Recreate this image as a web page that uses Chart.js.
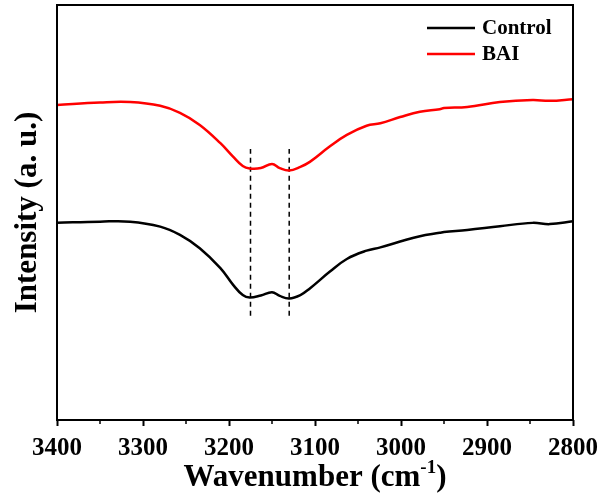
<!DOCTYPE html>
<html>
<head>
<meta charset="utf-8">
<script src="https://cdn.jsdelivr.net/npm/chart.js@4/dist/chart.umd.min.js"></script>
<style>
  html, body { margin: 0; padding: 0; background: #fff; }
  #wrap { width: 600px; height: 501px; }
</style>
</head>
<body>
<div id="wrap"><canvas id="ir"></canvas></div>
<script>
// FTIR spectra, N-H / O-H stretching region
const wavenumbers = [3400, 3350, 3315, 3280, 3257, 3234, 3210, 3195, 3184, 3176, 3163, 3150, 3141, 3130, 3117, 3106, 3083, 3063, 3040, 3024, 3001, 2978, 2955, 2950, 2923, 2885, 2847, 2827, 2800];
const controlIntensity = [47.5, 47.8, 47.8, 46.6, 44.6, 41.4, 36.6, 32.5, 30.1, 29.5, 30.0, 30.8, 29.9, 29.3, 30.1, 31.7, 35.7, 38.8, 40.8, 41.6, 43.0, 44.3, 45.1, 45.3, 45.8, 46.7, 47.5, 47.2, 47.9];
const baiIntensity = [75.9, 76.5, 76.6, 75.7, 74.0, 71.1, 66.7, 63.4, 61.2, 60.6, 60.7, 61.7, 60.7, 60.1, 61.0, 62.2, 65.9, 68.7, 70.9, 71.5, 73.0, 74.3, 74.9, 75.2, 75.4, 76.6, 77.1, 76.9, 77.3];
const seriesNames = ['Control', 'BAI'];
const markerPeaks = [3175, 3130];
const markerSpan = [25.1, 65.3];
const xTickLabels = [3400, 3300, 3200, 3100, 3000, 2900, 2800];
const minorTicks = [3350, 3250, 3150, 3050, 2950, 2850];

const serif = '"Liberation Serif", "Times New Roman", serif';

const toPoints = (ys) => wavenumbers.map((w, i) => ({ x: w, y: ys[i] }));

const datasets = [
  { label: seriesNames[0], data: toPoints(controlIntensity), borderColor: '#000000', borderWidth: 2.5 },
  { label: seriesNames[1], data: toPoints(baiIntensity), borderColor: '#ff0000', borderWidth: 2.5 }
].map(d => Object.assign(d, { pointRadius: 0, tension: 0.4, fill: false }));

markerPeaks.forEach(w => {
  datasets.push({
    label: '', marker: true,
    data: [{ x: w, y: markerSpan[0] }, { x: w, y: markerSpan[1] }],
    borderColor: '#000000', borderWidth: 1.5, borderDash: [5, 4],
    pointRadius: 0, tension: 0, fill: false
  });
});

const framePlugin = {
  id: 'frame',
  afterDraw(chart) {
    const { ctx, chartArea: a, scales } = chart;
    ctx.save();
    // plot frame
    ctx.strokeStyle = '#000';
    ctx.lineWidth = 2;
    ctx.strokeRect(a.left, a.top, a.right - a.left, a.bottom - a.top);
    // minor ticks
    ctx.lineWidth = 1.5;
    minorTicks.forEach(v => {
      const px = Math.round(scales.x.getPixelForValue(v));
      ctx.beginPath();
      ctx.moveTo(px, a.bottom);
      ctx.lineTo(px, a.bottom + 4);
      ctx.stroke();
    });

    // legend
    ctx.font = 'bold 21px ' + serif;
    ctx.textBaseline = 'middle';
    ctx.fillStyle = '#000';
    let ly = 28;
    chart.data.datasets.filter(d => !d.marker).forEach(d => {
      ctx.strokeStyle = d.borderColor;
      ctx.lineWidth = 2.5;
      ctx.beginPath();
      ctx.moveTo(427, ly);
      ctx.lineTo(475, ly);
      ctx.stroke();
      ctx.fillText(d.label, 482, ly + 1);
      ly += 26;
    });

    // x axis title with superscript
    const big = 'bold 31px ' + serif;
    const small = 'bold 19px ' + serif;
    const p1 = 'Wavenumber (cm', sup = '-1', p3 = ')';
    ctx.font = big; const w1 = ctx.measureText(p1).width; const w3 = ctx.measureText(p3).width;
    ctx.font = small; const w2 = ctx.measureText(sup).width;
    const cx = (a.left + a.right) / 2;
    let x0 = cx - (w1 + w2 + w3) / 2;
    const base = 486;
    ctx.textBaseline = 'alphabetic';
    ctx.textAlign = 'left';
    ctx.font = big; ctx.fillText(p1, x0, base);
    ctx.font = small; ctx.fillText(sup, x0 + w1, base - 13);
    ctx.font = big; ctx.fillText(p3, x0 + w1 + w2, base);

    // y axis title
    ctx.save();
    ctx.translate(28, (a.top + a.bottom) / 2);
    ctx.rotate(-Math.PI / 2);
    ctx.textAlign = 'center';
    ctx.textBaseline = 'middle';
    ctx.font = big;
    ctx.fillText('Intensity (a. u.)', 0, 0);
    ctx.restore();

    ctx.restore();
  }
};

new Chart(document.getElementById('ir'), {
  type: 'line',
  data: { datasets },
  options: {
    responsive: true,
    maintainAspectRatio: false,
    animation: false,
    layout: { padding: { left: 57, right: 27, top: 5, bottom: 0 } },
    plugins: { legend: { display: false }, tooltip: { enabled: false } },
    scales: {
      x: {
        type: 'linear',
        reverse: true,
        min: 2800,
        max: 3400,
        afterBuildTicks(scale) { scale.ticks = xTickLabels.map(v => ({ value: v })); },
        afterFit(scale) {
          scale.height = 81;
          scale.paddingLeft = 0;
          scale.paddingRight = 0;
        },
        ticks: {
          color: '#000',
          font: { family: serif, size: 25, weight: 'bold' },
          padding: 8,
          maxRotation: 0,
          autoSkip: false,
          callback: (v) => String(v)
        },
        grid: { drawOnChartArea: false, drawTicks: true, tickLength: 6, tickColor: '#000', tickWidth: 2 },
        border: { display: false }
      },
      y: {
        display: false,
        min: 0,
        max: 100
      }
    }
  },
  plugins: [framePlugin]
});
</script>
</body>
</html>
